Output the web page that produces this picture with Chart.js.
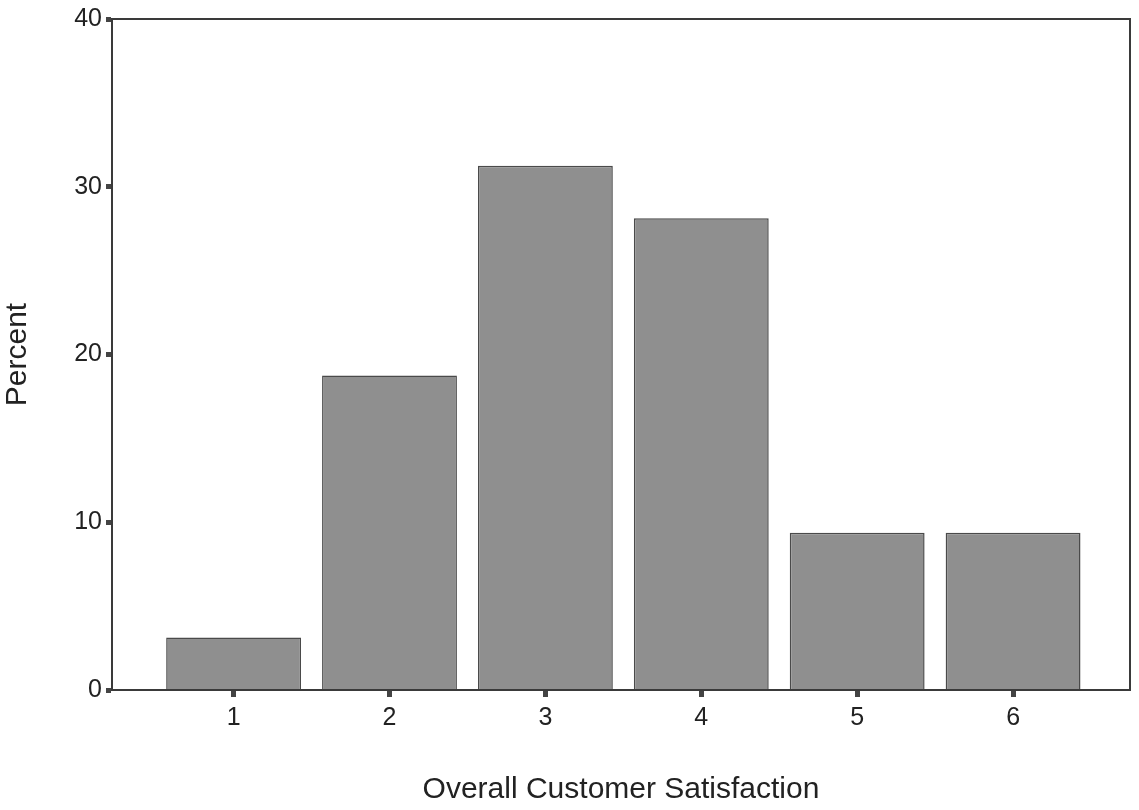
<!DOCTYPE html>
<html>
<head>
<meta charset="utf-8">
<script src="https://cdn.jsdelivr.net/npm/chart.js@4/dist/chart.umd.min.js"></script>
<style>
  html, body { margin: 0; padding: 0; background: #fff; }
  #wrap { width: 1139px; height: 810px; }
</style>
</head>
<body>
<div id="wrap"><canvas id="satisfactionChart"></canvas></div>
<script>
// ---- data ----
const categories = [1, 2, 3, 4, 5, 6];
const percentValues = [3.125, 18.75, 31.25, 28.125, 9.375, 9.375];
const yTicks = [0, 10, 20, 30, 40];

// frame round the plot area (top + right edges)
const frameBox = {
  id: 'frameBox',
  afterDraw(chart) {
    const { ctx, chartArea: a } = chart;
    ctx.save();
    ctx.strokeStyle = '#3a3a3a';
    ctx.lineWidth = 2;
    ctx.strokeRect(a.left, a.top, a.right - a.left, a.bottom - a.top);
    ctx.restore();
  }
};

const ctx = document.getElementById('satisfactionChart');

new Chart(ctx, {
  type: 'bar',
  data: {
    datasets: [{
      label: 'Percent',
      data: categories.map((c, i) => ({ x: c, y: percentValues[i] })),
      backgroundColor: '#8f8f8f',
      borderColor: '#4a4a4a',
      borderWidth: 1.5,
      barPercentage: 0.865,
      categoryPercentage: 1
    }]
  },
  options: {
    responsive: true,
    maintainAspectRatio: false,
    animation: false,
    layout: { padding: { top: 17, right: 9, left: 0, bottom: 0 } },
    plugins: {
      legend: { display: false },
      tooltip: { enabled: false }
    },
    scales: {
      x: {
        type: 'linear',
        min: 0.22,
        max: 6.75,
        offset: false,
        afterFit: s => { s.height = 120; },
        afterBuildTicks: s => { s.ticks = categories.map(v => ({ value: v })); },
        grid: {
          offset: false,
          drawOnChartArea: false,
          tickLength: 7,
          tickWidth: 5,
          tickColor: '#444'
        },
        border: { display: true, color: '#3a3a3a', width: 2 },
        ticks: {
          padding: 6,
          color: '#222',
          font: { family: 'Liberation Sans', size: 25 }
        },
        title: {
          display: true,
          text: 'Overall Customer Satisfaction',
          color: '#222',
          padding: { top: 0, bottom: 2 },
          font: { family: 'Liberation Sans', size: 30 }
        }
      },
      y: {
        min: 0,
        max: 40,
        afterFit: s => { s.width = 112; },
        afterBuildTicks: s => { s.ticks = yTicks.map(v => ({ value: v })); },
        grid: {
          drawOnChartArea: false,
          tickLength: 6,
          tickWidth: 5,
          tickColor: '#444'
        },
        border: { display: true, color: '#3a3a3a', width: 2 },
        ticks: {
          padding: 4,
          color: '#222',
          font: { family: 'Liberation Sans', size: 25 }
        },
        title: {
          display: true,
          text: 'Percent',
          color: '#222',
          padding: { top: 0, bottom: 8 },
          font: { family: 'Liberation Sans', size: 30 }
        }
      }
    }
  },
  plugins: [frameBox]
});
</script>
</body>
</html>
